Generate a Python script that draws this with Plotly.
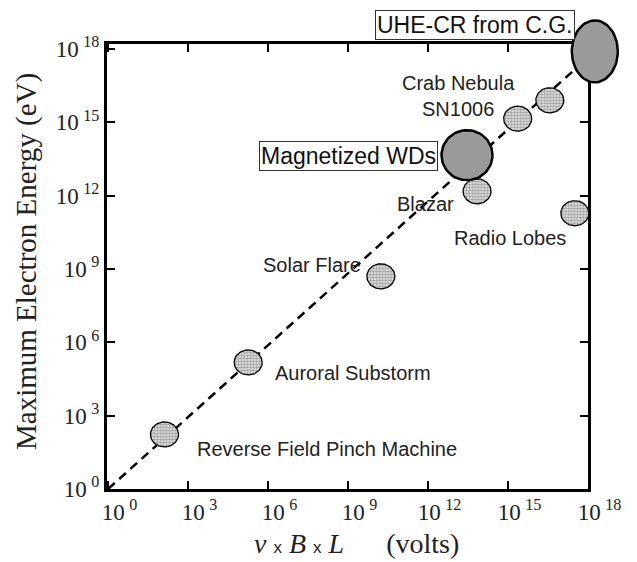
import numpy as np
import plotly.graph_objects as go

# ---------------- data ----------------
sources = ["Reverse Field Pinch Machine", "Auroral Substorm", "Solar Flare", "Blazar",
           "SN1006", "Crab Nebula", "Radio Lobes", "Magnetized WDs", "UHE-CR from C.G."]
vBL_volts = [1.3e2, 1.8e5, 1.7e10, 6.9e13, 2.3e15, 3.7e16, 3.2e17, 2.9e13, 1.8e18]
E_max_eV = [1.7e2, 1.5e5, 5.0e8, 1.5e12, 1.4e15, 7.9e15, 1.9e11, 4.5e13, 7.9e17]
highlight = [False, False, False, False, False, False, False, True, True]

line_x = [1.0, 1.8e18]
line_y = [1.0, 7.9e17]

tick_vals = [1e0, 1e3, 1e6, 1e9, 1e12, 1e15, 1e18]
tick_exps = ["0", "3", "6", "9", "12", "15", "18"]

# label text annotations (text, log10 x, log10 y)
labels = ["Reverse Field Pinch Machine", "Auroral Substorm", "Solar Flare", "Blazar",
          "Radio Lobes", "Crab Nebula<br>SN1006"]
label_x = [8.21, 9.19, 7.65, 11.89, 15.07, 13.16]
label_y = [1.63, 4.74, 9.15, 11.65, 10.26, 16.08]
boxed = ["Magnetized WDs", "UHE-CR from C.G."]
boxed_x = [9.0, 13.76]
boxed_y = [13.61, 18.96]

# ---------------- layout geometry ----------------
W, H = 637, 562
px_left, px_right, px_top, px_bottom = 107, 588, 44, 489
xdom = [px_left / W, px_right / W]
ydom = [(H - px_bottom) / H, (H - px_top) / H]
xr = [-0.04, 18.0]
yr = [0.0, 18.2]

def ext(r, dom):
    span = (r[1] - r[0]) / (dom[1] - dom[0])
    return [r[0] - dom[0] * span, r[1] + (1 - dom[1]) * span]

x2r = ext(xr, xdom)
y2r = ext(yr, ydom)
ppd_x = (px_right - px_left) / (xr[1] - xr[0])
ppd_y = (px_bottom - px_top) / (yr[1] - yr[0])

small_size = (28, 25)
big_sizes = {"Magnetized WDs": (51, 50), "UHE-CR from C.G.": (46, 62)}

fig = go.Figure()

# dashed guide line
fig.add_trace(go.Scatter(x=line_x, y=line_y, mode="lines",
                         line=dict(color="black", width=2.5, dash="9px,6px"),
                         hoverinfo="skip", showlegend=False, xaxis="x", yaxis="y"))

t = np.linspace(0, 2 * np.pi, 73)
for name, xv, yv, hi in zip(sources, vBL_volts, E_max_eV, highlight):
    w, h = big_sizes.get(name, small_size)
    rx = (w / 2) / ppd_x
    ry = (h / 2) / ppd_y
    cx, cy = np.log10(xv), np.log10(yv)
    ex = 10 ** (cx + rx * np.cos(t))
    ey = 10 ** (cy + ry * np.sin(t))
    if hi:
        fig.add_trace(go.Scatter(x=ex, y=ey, mode="lines", fill="toself",
                                 fillcolor="#9a9a9a", line=dict(color="black", width=2.5),
                                 name=name, showlegend=False, xaxis="x2", yaxis="y2"))
    else:
        fig.add_trace(go.Scatter(x=ex, y=ey, mode="lines", fill="toself",
                                 fillcolor="#e4e4e4",
                                 fillpattern=dict(shape=".", size=3, solidity=0.6,
                                                  fgcolor="#606060", bgcolor="#e8e8e8"),
                                 line=dict(color="black", width=1.3),
                                 name=name, showlegend=False, xaxis="x2", yaxis="y2"))

serif = "Liberation Serif, Times New Roman, serif"
sans = "Liberation Sans, Arial, sans-serif"
sup = "10\u2009<sup>%s</sup>"
ticktext_x = ["\u00a0\u00a0\u00a0\u00a0" + sup % e for e in tick_exps]
ticktext_y = [sup % e for e in tick_exps]

axis_common = dict(type="log", showline=True, linewidth=3, linecolor="black", mirror="ticks",
                   ticks="inside", ticklen=8, tickwidth=2, tickcolor="black",
                   showgrid=False, zeroline=False, tickvals=tick_vals, automargin=False,
                   tickfont=dict(family=serif, size=23, color="#222"))

fig.update_layout(
    width=W, height=H,
    margin=dict(l=0, r=0, t=0, b=0, pad=0, autoexpand=False),
    paper_bgcolor="white", plot_bgcolor="rgba(0,0,0,0)",
    xaxis=dict(domain=xdom, range=xr, ticktext=ticktext_x, anchor="y", **axis_common),
    yaxis=dict(domain=ydom, range=yr, ticktext=ticktext_y, anchor="x", **axis_common),
    xaxis2=dict(type="log", domain=[0, 1], range=x2r, visible=False, anchor="y2",
                automargin=False, showgrid=False, zeroline=False),
    yaxis2=dict(type="log", domain=[0, 1], range=y2r, visible=False, anchor="x2",
                automargin=False, showgrid=False, zeroline=False),
    showlegend=False,
)

for txt, lx, ly in zip(labels, label_x, label_y):
    fig.add_annotation(x=lx, y=ly, xref="x", yref="y", text=txt, showarrow=False,
                       font=dict(family=sans, size=20, color="#222"), align="center")
for txt, lx, ly in zip(boxed, boxed_x, boxed_y):
    fig.add_annotation(x=lx, y=ly, xref="x2", yref="y2", text=txt, showarrow=False,
                       font=dict(family=sans, size=23, color="#111"),
                       bordercolor="#333", borderwidth=1, borderpad=1, bgcolor="white")

# axis titles
fig.add_annotation(x=27 / W, y=1 - 262 / H, xref="paper", yref="paper",
                   xanchor="center", yanchor="middle",
                   text="Maximum Electron Energy (eV)", textangle=-90, showarrow=False,
                   font=dict(family=serif, size=29, color="#222"))
xs = "<span style='font-family:Liberation Sans, Arial, sans-serif;font-size:17px'>x</span>"
fig.add_annotation(x=356 / W, y=1 - 543 / H, xref="paper", yref="paper",
                   xanchor="center", yanchor="middle",
                   text="<i>v</i> " + xs + " <i>B</i> " + xs + " <i>L</i>" + "\u00a0" * 6 + "(volts)",
                   showarrow=False, font=dict(family=serif, size=28, color="#222"))

fig.write_html("out.html")
